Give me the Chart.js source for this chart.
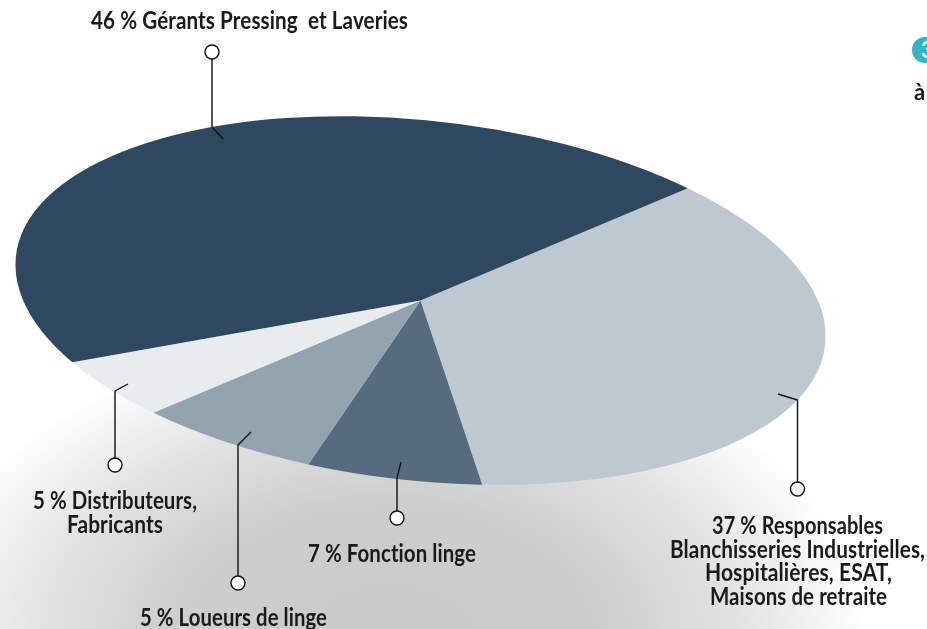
<!DOCTYPE html>
<html>
<head>
<meta charset="utf-8">
<style>
  html, body { margin: 0; padding: 0; overflow: hidden; }
  body {
    width: 927px; height: 629px;
    background: radial-gradient(ellipse 480px 310px at 390px 640px, #c9c9c9 0%, #cecece 45%, #e2e2e2 72%, #ffffff 100%);
  }
  canvas { display: block; }
</style>
<script src="https://cdn.jsdelivr.net/npm/chart.js@4"></script>
</head>
<body>
<canvas id="camembert" width="927" height="629"></canvas>
<script>
// categories in drawing order, clockwise from the upper right boundary
const categories = ["Responsables", "Fonction linge", "Loueurs de linge", "Distributeurs, Fabricants", "Gérants Pressing et Laveries"];
// slice sizes as they are drawn in the picture (they differ a little from the printed %)
const parts = [36.1, 6.9, 7, 5, 45];
const colors = ["#bec8d0", "#566b80", "#94a4af", "#e8ecef", "#2e4860"];

// text lines: [text, left, right, baseline]
const labelLines = [
  ["46 % Gérants Pressing  et Laveries", 91, 408, 29],
  ["5 % Distributeurs,", 33, 197, 509],
  ["Fabricants", 67, 163, 533],
  ["7 % Fonction linge", 308, 476, 562],
  ["5 % Loueurs de linge", 140, 327, 626],
  ["37 % Responsables", 712, 883, 534],
  ["Blanchisseries Industrielles,", 670, 925, 558],
  ["Hospitalières, ESAT,", 705, 892, 581],
  ["Maisons de retraite", 710, 887, 605],
];

// leader lines, last point is the small circle
const leaders = [
  [[223, 139], [212, 127], [212, 52]],
  [[778, 394], [797.5, 400], [797.5, 489]],
  [[401, 462], [397, 478], [397, 518]],
  [[251, 432], [238, 445], [238, 583]],
  [[128, 384], [115, 391], [115, 465]],
];

const tilt = 6.27 * Math.PI / 180;
const squash = 180 / 407;

const perspective = {
  id: "perspective",
  beforeDatasetsDraw(chart) {
    const ctx = chart.ctx;
    const a = chart.chartArea;
    const cx = (a.left + a.right) / 2;
    const cy = (a.top + a.bottom) / 2;
    ctx.save();
    ctx.translate(cx, cy);
    ctx.rotate(tilt);
    ctx.scale(1, squash);
    ctx.translate(-cx, -cy);
  },
  afterDatasetsDraw(chart) {
    chart.ctx.restore();
  },
};

function textFit(ctx, text, left, right, base) {
  ctx.save();
  const w = ctx.measureText(text).width;
  ctx.translate(left, base);
  ctx.scale((right - left) / w, 1);
  ctx.fillText(text, 0, 0);
  ctx.restore();
}

const annotations = {
  id: "annotations",
  afterDraw(chart) {
    const ctx = chart.ctx;
    ctx.save();
    ctx.strokeStyle = "#111";
    ctx.lineWidth = 1.4;
    leaders.forEach((pts) => {
      const end = pts[pts.length - 1];
      ctx.beginPath();
      ctx.moveTo(pts[0][0], pts[0][1]);
      pts.slice(1).forEach((p) => ctx.lineTo(p[0], p[1]));
      ctx.stroke();
      ctx.beginPath();
      ctx.arc(end[0], end[1], 7, 0, Math.PI * 2);
      ctx.fillStyle = "#fff";
      ctx.fill();
      ctx.stroke();
    });

    ctx.fillStyle = "#1a1a1a";
    ctx.font = "bold 25px Lato";
    ctx.letterSpacing = "0.1px"; // keeps Lato from joining the "ti" in Fonction
    ctx.textBaseline = "alphabetic";
    labelLines.forEach((l) => textFit(ctx, l[0], l[1], l[2], l[3]));

    // cut off pieces at the right edge
    ctx.beginPath();
    ctx.arc(925, 50, 13, 0, Math.PI * 2);
    ctx.fillStyle = "#2fb5c6";
    ctx.fill();
    ctx.fillStyle = "#fff";
    ctx.font = "bold 22px Lato";
    ctx.fillText("3", 921, 58);
    ctx.fillStyle = "#1a1a1a";
    ctx.fillText("à", 914, 100);
    ctx.restore();
  },
};

new Chart(document.getElementById("camembert"), {
  type: "pie",
  data: {
    labels: categories,
    datasets: [
      {
        data: parts,
        backgroundColor: colors,
        borderWidth: 0,
        clip: false,
      },
    ],
  },
  options: {
    responsive: false,
    animation: false,
    radius: 407,
    rotation: 38.5,
    layout: { padding: { right: 86, bottom: 28 } },
    plugins: {
      legend: { display: false },
      title: { display: false },
      tooltip: { enabled: false },
    },
  },
  plugins: [perspective, annotations],
});
</script>
</body>
</html>
